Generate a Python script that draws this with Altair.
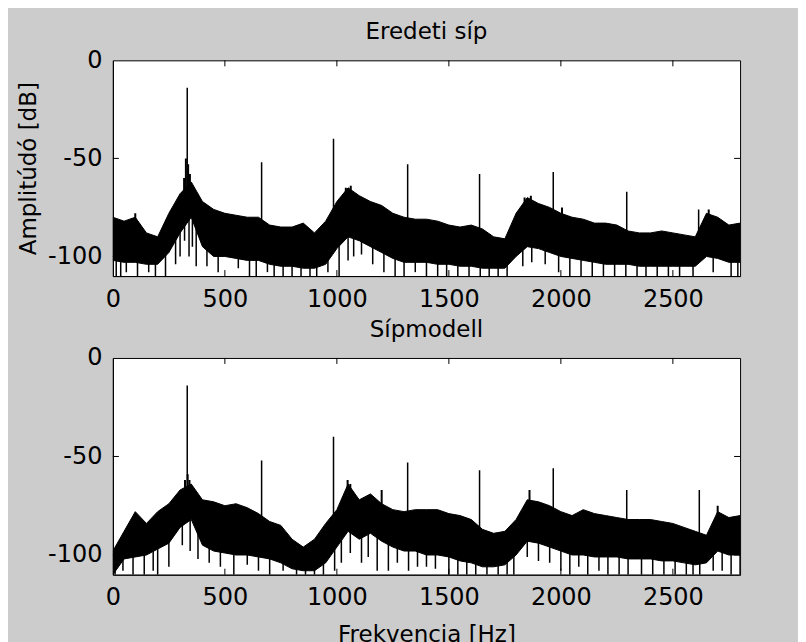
import altair as alt
import pandas as pd

# ---------------- data ----------------
FREQ = list(range(0, 2801, 50))

# "Eredeti síp" (original pipe) - upper / lower edge of the noise band [dB]
ORIG_UPPER = [-80, -82, -80, -88, -90, -78, -68, -62, -72, -76,
              -78, -79, -80, -80, -84, -85, -85, -83, -88, -82,
              -72, -65, -69, -72, -74, -78, -80, -81, -81, -82,
              -84, -85, -84, -86, -90, -91, -78, -70, -73, -75,
              -78, -80, -81, -83, -83, -84, -87, -88, -88, -87,
              -88, -89, -90, -78, -80, -84, -83]
ORIG_LOWER = [-102, -103, -103, -104, -104, -98, -88, -80, -95, -100,
              -100, -101, -102, -102, -104, -105, -105, -106, -106, -104,
              -96, -90, -92, -95, -98, -101, -103, -103, -103, -104,
              -104, -105, -105, -106, -106, -106, -100, -95, -96, -98,
              -100, -101, -102, -103, -104, -104, -104, -105, -105, -105,
              -105, -105, -105, -100, -101, -103, -103]

# "Sípmodell" (pipe model)
MODEL_UPPER = [-98, -88, -78, -84, -78, -74, -67, -64, -72, -73,
               -75, -74, -76, -79, -83, -85, -92, -96, -92, -84,
               -77, -64, -72, -69, -74, -77, -78, -77, -77, -77,
               -79, -80, -82, -87, -89, -88, -82, -72, -73, -75,
               -78, -80, -77, -79, -80, -81, -82, -82, -82, -83,
               -84, -86, -88, -90, -78, -81, -80]
MODEL_LOWER = [-110, -102, -101, -100, -97, -94, -86, -82, -95, -98,
               -99, -100, -100, -101, -102, -104, -107, -108, -108, -104,
               -96, -88, -92, -89, -93, -96, -98, -98, -100, -100,
               -101, -103, -104, -106, -106, -105, -100, -93, -94, -96,
               -98, -100, -100, -101, -101, -101, -102, -102, -102, -103,
               -103, -104, -105, -104, -98, -100, -100]

# harmonic lines
ORIG_HARM_F = [332, 664, 985, 1316, 1637, 1966, 2294, 2615]
ORIG_HARM_DB = [-14, -52, -40, -53, -58, -57, -67, -76]
MODEL_HARM_F = [332, 664, 985, 1316, 1637, 1966, 2294, 2618]
MODEL_HARM_DB = [-14, -52, -40, -53, -57, -56, -67, -67]

# small peaks poking above the band
ORIG_BUMP_F = [100, 318, 326, 336, 344, 1040, 1062, 1838, 1866, 2005, 2660]
ORIG_BUMP_DB = [-78, -60, -50, -53, -58, -65, -64, -70, -69, -75, -76]
MODEL_BUMP_F = [322, 334, 342, 1048, 1060, 1200, 1860, 2700]
MODEL_BUMP_DB = [-62, -59, -62, -62, -64, -67, -67, -75]

# narrow dips below the band
ORIG_DIP_F = [15, 35, 60, 110, 160, 190, 235, 280, 300, 320, 340, 355, 372,
              420, 470, 560, 610, 640, 690, 720, 760, 800, 840, 880, 910,
              960, 1010, 1050, 1075, 1110, 1160, 1210, 1260, 1300, 1350,
              1400, 1450, 1490, 1540, 1590, 1640, 1680, 1720, 1760, 1830,
              1870, 1930, 1990, 2040, 2090, 2140, 2190, 2240, 2290, 2340,
              2380, 2430, 2480, 2530, 2590, 2680, 2760, 2790]
ORIG_DIP_DB = [-110, -110, -108, -110, -108, -110, -110, -104, -100, -92,
               -100, -95, -105, -105, -108, -106, -110, -110, -108, -110,
               -110, -110, -110, -110, -110, -108, -110, -102, -100, -99,
               -104, -108, -110, -110, -108, -110, -110, -110, -110, -110,
               -110, -110, -110, -110, -105, -103, -104, -108, -110, -110,
               -110, -110, -110, -110, -110, -110, -110, -110, -110, -110,
               -108, -110, -110]
MODEL_DIP_F = [10, 45, 90, 140, 180, 200, 250, 310, 345, 380, 430, 480, 540,
               600, 650, 700, 760, 820, 860, 900, 940, 990, 1020, 1060, 1110,
               1140, 1180, 1230, 1270, 1320, 1360, 1400, 1440, 1500, 1540,
               1580, 1620, 1670, 1720, 1760, 1790, 1850, 1900, 1950, 2000,
               2040, 2080, 2120, 2170, 2210, 2260, 2300, 2360, 2410, 2460,
               2510, 2560, 2590, 2620, 2680, 2720, 2760, 2800]
MODEL_DIP_DB = [-110, -108, -110, -110, -108, -110, -106, -95, -98, -102,
                -104, -106, -110, -105, -108, -110, -108, -110, -110, -110,
                -110, -108, -104, -99, -104, -101, -108, -108, -104, -108,
                -106, -106, -107, -110, -110, -110, -110, -110, -110, -110,
                -110, -101, -103, -104, -108, -110, -106, -110, -108, -110,
                -110, -110, -110, -110, -110, -110, -110, -110, -110, -108,
                -108, -110, -110]

X_TICKS = [0, 500, 1000, 1500, 2000, 2500]
Y_TICKS = [0, -50, -100]
INNER_X_TICKS = [500, 1000, 1500, 2000, 2500]
INNER_Y_TICKS = [-50, -100]

FONT = "DejaVu Sans"
W = 628


def panel(title, upper, lower, hf, hdb, bf, bdb, df_, ddb, height, xtitle, ytitle):
    mid = {f: (u + l) / 2 for f, u, l in zip(FREQ, upper, lower)}

    def base(f):
        return mid[min(2800, int(round(f / 50.0)) * 50)]

    band = pd.DataFrame({"f": FREQ, "hi": upper, "lo": lower})
    harm = pd.DataFrame({"f": hf, "top": hdb, "b": [base(f) for f in hf]})
    bump = pd.DataFrame({"f": bf, "top": bdb, "b": [base(f) for f in bf]})
    dip = pd.DataFrame({"f": df_, "bot": ddb, "b": [base(f) for f in df_]})
    xt = pd.DataFrame({"v": INNER_X_TICKS})
    yt = pd.DataFrame({"v": INNER_Y_TICKS})
    tt = pd.DataFrame({"t": [title]})

    xscale = alt.Scale(domain=[0, 2800], nice=False, zero=False)
    yscale = alt.Scale(domain=[-110, 0], nice=False, zero=False)

    xaxis_kw = dict(values=X_TICKS, ticks=False, tickSize=0, grid=False,
                    labelExpr="'' + datum.value",
                    labelPadding=11, labelFontSize=24, labelFont=FONT,
                    labelColor="black", domainColor="black", labelFlush=False,
                    titleFont=FONT, titleFontSize=23, titleFontWeight="normal",
                    titleColor="black", titleBaseline="alphabetic",
                    titleY=67, titleAnchor="middle")
    yaxis_kw = dict(values=Y_TICKS, ticks=False, tickSize=0, grid=False,
                    labelExpr="'' + datum.value",
                    labelPadding=11, labelFontSize=24, labelFont=FONT,
                    labelColor="black", domainColor="black", labelFlush=False,
                    titleFont=FONT, titleFontSize=23, titleFontWeight="normal",
                    titleColor="black", titleAngle=270, titleX=-84,
                    titleY=height / 2, titleAlign="center", titleBaseline="middle")

    x = alt.X("f:Q", scale=xscale, axis=alt.Axis(title=xtitle, **xaxis_kw))
    area = alt.Chart(band).mark_area(color="black", stroke="black", strokeWidth=1,
                                     interpolate="linear", clip=True).encode(
        x=x,
        y=alt.Y("hi:Q", scale=yscale, axis=alt.Axis(title=ytitle, **yaxis_kw)),
        y2="lo:Q",
    )
    harm_l = alt.Chart(harm).mark_rule(color="black", strokeWidth=1.5, clip=True).encode(
        x="f:Q", y="top:Q", y2="b:Q")
    bump_l = alt.Chart(bump).mark_rule(color="black", strokeWidth=2, clip=True).encode(
        x="f:Q", y="top:Q", y2="b:Q")
    dip_l = alt.Chart(dip).mark_rule(color="black", strokeWidth=1.5, clip=True).encode(
        x="f:Q", y="bot:Q", y2="b:Q")
    tick_top = alt.Chart(xt).mark_rule(color="black", strokeWidth=1).encode(
        x="v:Q", y=alt.value(0), y2=alt.value(6))
    tick_bot = alt.Chart(xt).mark_rule(color="black", strokeWidth=1).encode(
        x="v:Q", y=alt.value(height), y2=alt.value(height - 6))
    tick_left = alt.Chart(yt).mark_rule(color="black", strokeWidth=1).encode(
        y="v:Q", x=alt.value(0), x2=alt.value(6))
    tick_right = alt.Chart(yt).mark_rule(color="black", strokeWidth=1).encode(
        y="v:Q", x=alt.value(W), x2=alt.value(W - 6))
    title_l = alt.Chart(tt).mark_text(font=FONT, fontSize=23, color="black",
                                      align="center", baseline="alphabetic").encode(
        text="t:N", x=alt.value(W / 2), y=alt.value(-21))

    return alt.layer(area, harm_l, bump_l, dip_l, tick_top, tick_bot,
                     tick_left, tick_right, title_l).properties(
        width=W, height=height)


top = panel("Eredeti síp", ORIG_UPPER, ORIG_LOWER, ORIG_HARM_F, ORIG_HARM_DB,
            ORIG_BUMP_F, ORIG_BUMP_DB, ORIG_DIP_F, ORIG_DIP_DB, 216,
            "", "Amplitúdó [dB]")
bottom = panel("Sípmodell", MODEL_UPPER, MODEL_LOWER, MODEL_HARM_F, MODEL_HARM_DB,
               MODEL_BUMP_F, MODEL_BUMP_DB, MODEL_DIP_F, MODEL_DIP_DB, 217,
               "Frekvencia [Hz]", "")

chart = alt.vconcat(top, bottom, spacing=82, bounds="flush").properties(
    background="#cccccc",
    padding={"left": 9, "top": 12, "right": 57, "bottom": 0},
).configure_view(stroke="black", strokeWidth=1, fill="white")

chart.save("out.html", embed_options={"renderer": "svg", "actions": False})
